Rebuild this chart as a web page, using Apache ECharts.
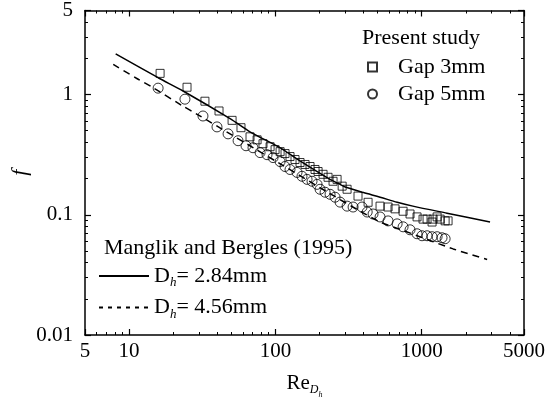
<!DOCTYPE html>
<html lang="en">
<head>
<meta charset="UTF-8">
<title>Friction factor f vs Re</title>
<script src="https://cdn.jsdelivr.net/npm/echarts@6/dist/echarts.min.js"></script>
<style>
  html, body { margin: 0; padding: 0; background: #fff; }
  #chart { width: 550px; height: 404px; }
</style>
</head>
<body>
<div id="chart"></div>
<script>
// Present study, gap 3 mm
var gap3Re = [16.3, 24.9, 33.0, 41.2, 50.6, 58.2, 67.1, 75.0, 82.3, 92.0, 99.5, 107.7, 116.4, 125.9, 136.2, 147.4,
  159.5, 172.5, 186.6, 195.8, 211.8, 229, 247.8, 264, 286, 309, 367, 430, 519, 589, 657, 746, 832, 929, 1021,
  1088, 1177, 1196, 1274, 1336, 1445, 1514];
var gap3F = [1.50, 1.15, 0.88, 0.73, 0.61, 0.53, 0.445, 0.42, 0.39, 0.368, 0.348, 0.335, 0.323, 0.305, 0.288, 0.272,
  0.262, 0.252, 0.238, 0.229, 0.217, 0.205, 0.19, 0.197, 0.173, 0.163, 0.143, 0.127, 0.118, 0.116, 0.112, 0.107, 0.1015, 0.096, 0.092,
  0.092, 0.087, 0.092, 0.096, 0.092, 0.089, 0.089];

// Present study, gap 5 mm
var gap5Re = [15.8, 24.1, 32.0, 39.9, 47.5, 55.6, 63.0, 70.3, 78.6, 87.7, 96.4, 107.7, 116.4, 125.9, 140.6, 152,
  164.6, 178, 192.7, 202, 218.6, 236.4, 255.8, 276.7, 309, 339.6, 391, 424, 465, 519, 589, 679, 746, 832, 929,
  1005, 1088, 1177, 1274, 1377, 1445];
var gap5F = [1.13, 0.915, 0.663, 0.538, 0.471, 0.413, 0.375, 0.361, 0.329, 0.316, 0.299, 0.277, 0.252, 0.238, 0.225, 0.209,
  0.197, 0.19, 0.179, 0.163, 0.154, 0.148, 0.14, 0.1274, 0.118, 0.116, 0.116, 0.1054, 0.1015, 0.0959, 0.0889, 0.084, 0.0794, 0.075, 0.0695,
  0.0669, 0.0669, 0.0657, 0.0657, 0.0644, 0.0632];

// Manglik and Bergles (1995), Dh = 2.84 mm
var mb284Re = [8.1, 15.8, 23.4, 49, 67, 108, 141, 236, 277, 300, 400, 520, 680, 870, 1490, 2930];
var mb284F = [2.18, 1.38, 1.07, 0.63, 0.49, 0.36, 0.29, 0.197, 0.179, 0.17, 0.153, 0.14, 0.127, 0.118, 0.103, 0.087];

// Manglik and Bergles (1995), Dh = 4.56 mm
var mb456Re = [7.8, 11.3, 14.6, 23, 29.2, 108, 236, 380, 520, 746, 1640, 2800];
var mb456F = [1.78, 1.36, 1.14, 0.81, 0.685, 0.265, 0.15, 0.107, 0.087, 0.074, 0.052, 0.0425];

var xMinorTicks = [6, 7, 8, 9, 20, 30, 40, 50, 60, 70, 80, 90, 200, 300, 400, 500, 600, 700, 800, 900, 2000, 3000, 4000];
var yMinorTicks = [0.02, 0.03, 0.04, 0.05, 0.06, 0.07, 0.08, 0.09, 0.2, 0.3, 0.4, 0.5, 0.6, 0.7, 0.8, 0.9, 2, 3, 4];

var serif = 'Liberation Serif';

function pairs(xs, ys) {
  return xs.map(function (x, i) { return [x, ys[i]]; });
}

// plain numbers, no thousands separator
function plain(v) {
  return String(+v.toPrecision(6));
}

function xAxisDef(pos, minor) {
  return {
    type: 'log', min: 5, max: 5000, position: pos,
    axisLine: { show: !minor, lineStyle: { color: '#000', width: 1.5 } },
    axisTick: minor
      ? { show: true, inside: true, length: 3, customValues: xMinorTicks, lineStyle: { color: '#000', width: 1 } }
      : { show: true, inside: true, length: 6, lineStyle: { color: '#000', width: 1.2 } },
    axisLabel: { show: false },
    splitLine: { show: false }
  };
}

function yAxisDef(pos, minor) {
  return {
    type: 'log', min: 0.01, max: 5, position: pos,
    axisLine: { show: !minor, lineStyle: { color: '#000', width: 1.5 } },
    axisTick: minor
      ? { show: true, inside: true, length: 3, customValues: yMinorTicks, lineStyle: { color: '#000', width: 1 } }
      : { show: true, inside: true, length: 6, lineStyle: { color: '#000', width: 1.2 } },
    axisLabel: { show: false },
    splitLine: { show: false }
  };
}

var xMain = xAxisDef('bottom', false);
xMain.axisLabel = { show: true, fontFamily: serif, fontSize: 21, color: '#000', margin: 6, formatter: plain };
xMain.name = '{r|Re}{d|D}{h|h}';
xMain.nameLocation = 'middle';
xMain.nameGap = 32;
xMain.nameTextStyle = {
  color: '#000',
  rich: {
    r: { fontFamily: serif, fontSize: 21, color: '#000' },
    d: { fontFamily: serif, fontSize: 12, fontStyle: 'italic', color: '#000', padding: [14, 0, 0, 0] },
    h: { fontFamily: serif, fontSize: 8, fontStyle: 'italic', color: '#000', padding: [24, 0, 0, 0] }
  }
};

var yMain = yAxisDef('left', false);
yMain.axisLabel = { show: true, fontFamily: serif, fontSize: 21, color: '#000', margin: 12, formatter: plain };
yMain.name = 'f';
yMain.nameLocation = 'middle';
yMain.nameGap = 54;
yMain.nameMoveOverlap = false;
yMain.nameTextStyle = { fontFamily: serif, fontSize: 22, fontStyle: 'italic', color: '#000' };

var chart = echarts.init(document.getElementById('chart'));

var option = {
  animation: false,
  backgroundColor: '#fff',
  grid: { left: 85, right: 26, top: 9, bottom: 67 },
  title: [
    { text: 'Present study', left: 362, top: 27, padding: 0,
      textStyle: { fontFamily: serif, fontSize: 22, fontWeight: 'normal', color: '#000' } },
    { text: 'Manglik and Bergles (1995)', left: 104, top: 237, padding: 0,
      textStyle: { fontFamily: serif, fontSize: 22, fontWeight: 'normal', color: '#000' } }
  ],
  legend: [
    {
      data: ['Gap 3mm', 'Gap 5mm'],
      orient: 'vertical', left: 367, top: 56, padding: 0,
      itemWidth: 9, itemHeight: 9, itemGap: 5, selectedMode: false,
      textStyle: { fontFamily: serif, fontSize: 22, color: '#000', padding: [0, 0, 0, 16] }
    },
    {
      data: [
        { name: 'Dh = 2.84mm' },
        { name: 'Dh = 4.56mm', lineStyle: { type: [4, 5] } }
      ],
      orient: 'vertical', left: 98, top: 265, padding: 0,
      itemWidth: 50, itemHeight: 12, itemGap: 7, selectedMode: false,
      itemStyle: { color: 'rgba(0,0,0,0)', borderColor: 'rgba(0,0,0,0)', borderWidth: 0 },
      formatter: function (name) {
        return '{d|D}{s|h}{t|= ' + name.split('= ')[1] + '}';
      },
      textStyle: {
        color: '#000',
        rich: {
          d: { fontFamily: serif, fontSize: 22, color: '#000' },
          s: { fontFamily: serif, fontSize: 13, fontStyle: 'italic', color: '#000', padding: [14, 0, 0, 0] },
          t: { fontFamily: serif, fontSize: 22, color: '#000' }
        }
      }
    }
  ],
  xAxis: [xMain, xAxisDef('bottom', true), xAxisDef('top', false), xAxisDef('top', true)],
  yAxis: [yMain, yAxisDef('left', true), yAxisDef('right', false), yAxisDef('right', true)],
  series: [
    {
      name: 'Dh = 2.84mm', type: 'line', symbol: 'none', smooth: 0.3,
      data: pairs(mb284Re, mb284F),
      lineStyle: { color: '#000', width: 1.5, type: 'solid' },
      itemStyle: { color: '#000' }
    },
    {
      name: 'Dh = 4.56mm', type: 'line', symbol: 'none', smooth: 0.3,
      data: pairs(mb456Re, mb456F),
      lineStyle: { color: '#000', width: 1.5, type: [7, 5] },
      itemStyle: { color: '#000' }
    },
    {
      name: 'Gap 3mm', type: 'scatter', symbol: 'rect', symbolSize: 8,
      data: pairs(gap3Re, gap3F),
      itemStyle: { color: 'rgba(255,255,255,0)', borderColor: '#000', borderWidth: 1 }
    },
    {
      name: 'Gap 5mm', type: 'scatter', symbol: 'circle', symbolSize: 10,
      data: pairs(gap5Re, gap5F),
      itemStyle: { color: 'rgba(255,255,255,0)', borderColor: '#000', borderWidth: 1 }
    }
  ]
};

chart.setOption(option);
</script>
</body>
</html>
